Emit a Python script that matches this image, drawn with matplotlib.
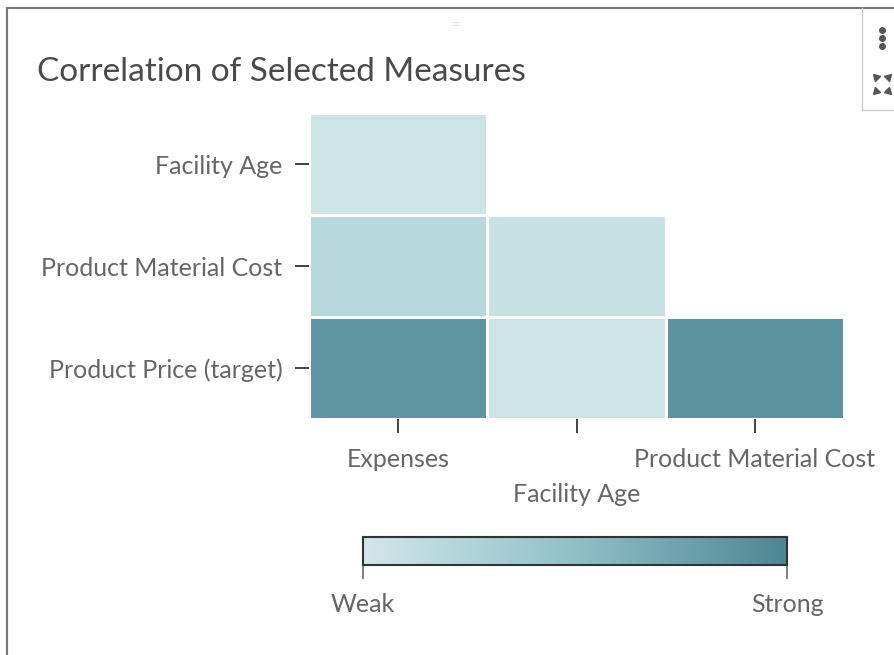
import numpy as np
import matplotlib.pyplot as plt
from matplotlib.colors import LinearSegmentedColormap
from matplotlib.lines import Line2D

plt.rcParams['font.family'] = ['Lato', 'DejaVu Sans']

# data: lower triangle of the correlation matrix (strength 0..1)
col_labels = ["Expenses", "Facility Age", "Product Material Cost"]
row_labels = ["Facility Age", "Product Material Cost", "Product Price (target)"]
strength = np.array([
    [0.04, np.nan, np.nan],
    [0.20, 0.08, np.nan],
    [0.86, 0.04, 0.90],
])

cmap = LinearSegmentedColormap.from_list("corr", ["#d2e7ea", "#8fc1c8", "#4d8693"])
text_col = "#666666"

fig = plt.figure(figsize=(8.94, 6.55), dpi=100)

# heatmap
ax = fig.add_axes([309 / 894, 1 - 419 / 655, 535 / 894, 306 / 655])
data = np.ma.masked_invalid(strength)
ax.pcolormesh(np.arange(4), np.arange(4), data, cmap=cmap, vmin=0, vmax=1,
              edgecolors="white", linewidth=2)
ax.set_xlim(0, 3)
ax.set_ylim(3, 0)
ax.set_xticks(np.arange(3) + 0.5)
ax.set_yticks(np.arange(3) + 0.5)
ax.set_xticklabels(col_labels)
ax.set_yticklabels(row_labels)
for i, t in enumerate(ax.get_xticklabels()):
    if i == 1:
        t.set_y(-0.115)
ax.tick_params(axis="both", length=10, width=1.3, color="#333333",
               labelsize=18, labelcolor=text_col)
ax.tick_params(axis="y", pad=9)
ax.tick_params(axis="x", pad=11)
for s in ax.spines.values():
    s.set_visible(False)

# colorbar
cax = fig.add_axes([363 / 894, 1 - 565 / 655, 424 / 894, 28 / 655])
grad = np.linspace(0, 1, 256).reshape(1, -1)
cax.imshow(grad, aspect="auto", cmap=cmap, extent=[0, 1, 0, 1])
cax.set_xlim(0, 1)
cax.set_yticks([])
cax.set_xticks([0, 1])
cax.set_xticklabels(["Weak", "Strong"])
cax.tick_params(axis="x", length=10, width=1.3, color="#777777",
                labelsize=18, labelcolor=text_col, pad=10)
for s in cax.spines.values():
    s.set_color("#333333")
    s.set_linewidth(1.5)

# title
fig.text(37 / 894, 1 - 72 / 655, "Correlation of Selected Measures",
         fontsize=24, color="#4a4a4a", va="center", ha="left")

# panel frame and toolbar
def fl(x0, y0, x1, y1, c="#888888", lw=1.2):
    fig.add_artist(Line2D([x0 / 894, x1 / 894], [1 - y0 / 655, 1 - y1 / 655],
                          color=c, lw=lw, transform=fig.transFigure))

fl(7, 8, 894, 8, "#777777", 1.5)
fl(7, 8, 7, 655, "#777777", 1.5)
fl(862, 8, 862, 110, "#cccccc", 1.0)
fl(862, 110, 894, 110, "#cccccc", 1.0)
for yy in [30, 38, 46]:
    fig.add_artist(Line2D([882 / 894], [1 - yy / 655], marker="o", ms=4,
                          color="#555555", transform=fig.transFigure))
# expand icon: four small corner triangles
for dx, dy, ang in [(-6, -7, 135), (6, -7, 45), (-6, 7, 225), (6, 7, 315)]:
    fig.add_artist(Line2D([(882 + dx) / 894], [1 - (84 + dy) / 655],
                          marker=(3, 0, ang - 90), ms=6, color="#555555",
                          transform=fig.transFigure))
fig.text(456 / 894, 1 - 23 / 655, "::::", fontsize=6, color="#bbbbbb",
         ha="center", va="center")

fig.savefig("out.png", dpi=100)
